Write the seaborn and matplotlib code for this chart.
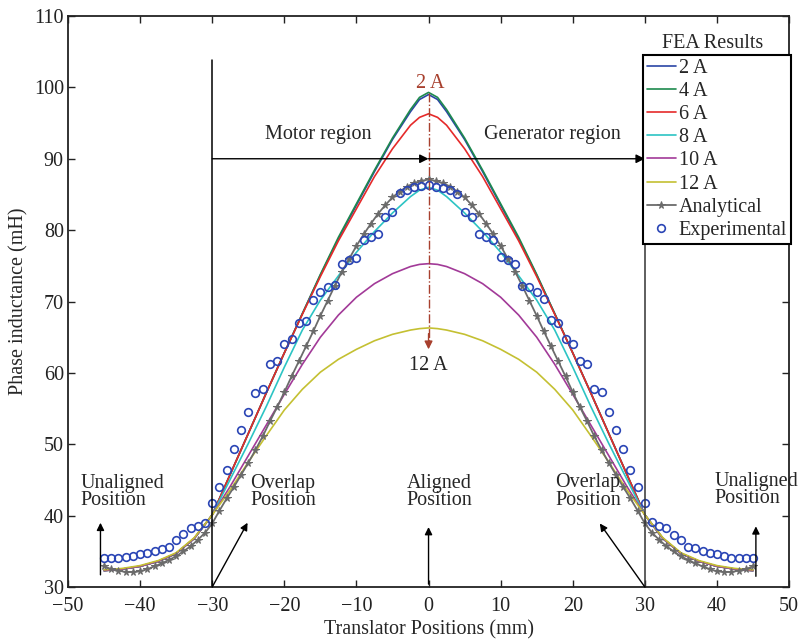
import numpy as np
import pandas as pd
import matplotlib
matplotlib.use("Agg")
import matplotlib.pyplot as plt
import seaborn as sns

# FEA results, sampled every 2.5 mm (plus two points close to the peak)
x_fea = [-45, -42.5, -40, -37.5, -35, -32.5, -30, -27.5, -25, -22.5, -20, -17.5, -15,
         -12.5, -10, -7.5, -5, -2.5, -1.25, 0, 1.25, 2.5, 5, 7.5, 10, 12.5, 15, 17.5,
         20, 22.5, 25, 27.5, 30, 32.5, 35, 37.5, 40, 42.5, 45]
fea_2a = [32.3, 32.5, 32.9, 33.6, 34.7, 36.8, 40.1, 45.8, 51.5, 57.2, 62.8, 68.3, 73.7,
          78.8, 83.5, 88.2, 92.7, 96.6, 98.3, 99.0, 98.3, 96.6, 92.7, 88.2, 83.5, 78.8,
          73.7, 68.3, 62.8, 57.2, 51.5, 45.8, 40.1, 36.8, 34.7, 33.6, 32.9, 32.5, 32.3]
fea_4a = [32.3, 32.5, 32.9, 33.6, 34.7, 36.8, 40.1, 45.8, 51.5, 57.2, 62.8, 68.3, 73.8,
          79.0, 83.7, 88.4, 92.9, 96.9, 98.6, 99.3, 98.6, 96.9, 92.9, 88.4, 83.7, 79.0,
          73.8, 68.3, 62.8, 57.2, 51.5, 45.8, 40.1, 36.8, 34.7, 33.6, 32.9, 32.5, 32.3]
fea_6a = [32.3, 32.5, 32.9, 33.6, 34.7, 36.8, 40.1, 45.8, 51.5, 57.2, 62.8, 68.2, 73.5,
          78.5, 83.0, 87.5, 91.4, 94.7, 95.8, 96.3, 95.8, 94.7, 91.4, 87.5, 83.0, 78.5,
          73.5, 68.2, 62.8, 57.2, 51.5, 45.8, 40.1, 36.8, 34.7, 33.6, 32.9, 32.5, 32.3]
fea_8a = [32.3, 32.5, 32.9, 33.6, 34.7, 36.8, 40.1, 45.1, 50.1, 55.3, 60.8, 66.0, 70.2,
          73.6, 76.9, 79.8, 82.4, 84.7, 85.6, 86.0, 85.6, 84.7, 82.4, 79.8, 76.9, 73.6,
          70.2, 66.0, 60.8, 55.3, 50.1, 45.1, 40.1, 36.8, 34.7, 33.6, 32.9, 32.5, 32.3]
fea_10a = [32.3, 32.5, 32.9, 33.6, 34.7, 36.8, 40.1, 44.1, 48.4, 52.7, 57.0, 61.2, 65.0,
           68.1, 70.6, 72.5, 73.9, 74.9, 75.2, 75.3, 75.2, 74.9, 73.9, 72.5, 70.6, 68.1,
           65.0, 61.2, 57.0, 52.7, 48.4, 44.1, 40.1, 36.8, 34.7, 33.6, 32.9, 32.5, 32.3]
fea_12a = [32.4, 32.6, 33.0, 33.7, 34.8, 36.9, 40.1, 43.6, 47.5, 51.2, 54.8, 57.7, 60.1,
           61.9, 63.3, 64.5, 65.4, 66.0, 66.2, 66.3, 66.2, 66.0, 65.4, 64.5, 63.3, 61.9,
           60.1, 57.7, 54.8, 51.2, 47.5, 43.6, 40.1, 36.9, 34.8, 33.7, 33.0, 32.6, 32.4]

# analytical and experimental, every 1 mm from -45 to 45
x_mm = list(range(-45, 46))
analytical = [32.9, 32.5, 32.3, 32.1, 32.1, 32.2, 32.5, 32.9, 33.3, 33.8,
              34.3, 35.0, 35.7, 36.6, 37.6, 38.9, 40.7, 42.4, 44.0, 45.7,
              47.4, 49.2, 51.1, 53.2, 55.2, 57.3, 59.5, 61.6, 63.7, 65.8,
              68.0, 70.1, 72.2, 74.2, 76.0, 77.8, 79.4, 80.9, 82.3, 83.5,
              84.6, 85.4, 86.1, 86.6, 86.9, 87.1,
              86.9, 86.6, 86.1, 85.4, 84.6, 83.5, 82.3, 80.9, 79.4, 77.8,
              76.0, 74.2, 72.2, 70.1, 68.0, 65.8, 63.7, 61.6, 59.5, 57.3,
              55.2, 53.2, 51.1, 49.2, 47.4, 45.7, 44.0, 42.4, 40.7, 38.9,
              37.6, 36.6, 35.7, 35.0, 34.3, 33.8, 33.3, 32.9, 32.5, 32.2,
              32.1, 32.1, 32.3, 32.5, 32.9]
experimental = [34.0, 34.1, 34.1, 34.2, 34.3, 34.6, 34.8, 35.0, 35.3, 35.6,
                36.6, 37.4, 38.2, 38.6, 39.0, 41.7, 44.0, 46.4, 49.3, 52.0,
                54.5, 57.2, 57.7, 61.3, 61.6, 64.0, 64.7, 67.0, 67.3, 70.2,
                71.3, 72.0, 72.3, 75.2, 75.8, 76.1, 78.6, 79.1, 79.5, 81.8,
                82.5, 85.2, 85.6, 86.0, 86.2, 86.3,
                86.1, 85.9, 85.6, 85.1, 82.5, 81.9, 79.5, 79.1, 78.6, 76.2,
                75.8, 75.2, 72.2, 72.1, 71.4, 70.3, 67.4, 67.0, 64.8, 64.0,
                61.6, 61.3, 57.8, 57.3, 54.5, 52.0, 49.3, 46.4, 44.0, 41.7,
                39.1, 38.6, 38.2, 37.3, 36.6, 35.6, 35.4, 35.1, 34.8, 34.6,
                34.4, 34.1, 34.1, 34.1, 34.0]

labels = ['2 A', '4 A', '6 A', '8 A', '10 A', '12 A']
colors = ['#2b45a6', '#1e8a4e', '#e52a2a', '#2cc4c4', '#a23a98', '#c4c032']

sns.set_style("ticks")
plt.rcParams['font.family'] = ['Liberation Serif', 'DejaVu Serif']

fea = pd.DataFrame({'x': x_fea, '2 A': fea_2a, '4 A': fea_4a, '6 A': fea_6a,
                    '8 A': fea_8a, '10 A': fea_10a, '12 A': fea_12a})

fig = plt.figure(figsize=(8.05, 6.43), dpi=100)
ax = fig.add_axes([0.0845, 0.0871, 0.8957, 0.888])

for name, col in zip(labels, colors):
    sns.lineplot(data=fea, x='x', y=name, color=col, lw=1.2, label=name, ax=ax)

sns.lineplot(x=x_mm, y=analytical, color='#6b6b6b', lw=1.3, marker='*', markersize=5.5,
             markeredgecolor='#6b6b6b', label='Analytical', ax=ax)
sns.lineplot(x=x_mm, y=experimental, linestyle='', marker='o', markersize=5.5,
             markerfacecolor='none', markeredgecolor='#2a45b5', markeredgewidth=1.2,
             color='#2a45b5', label='Experimental', ax=ax)

fs = 14.5

# region lines and arrows
ax.plot([-30, -30], [30, 103.8], color='k', lw=1.1)
ax.plot([30, 30], [30, 102.8], color='#333333', lw=1.1)
arr = dict(arrowstyle='-|>', color='k', lw=1.0, mutation_scale=13, shrinkA=0, shrinkB=0)
ax.annotate('', xy=(0, 90), xytext=(-30, 90), arrowprops=arr)
ax.annotate('', xy=(30, 90), xytext=(0, 90), arrowprops=arr)
ax.text(-15.3, 93.4, 'Motor region', ha='center', va='center', fontsize=fs)
ax.text(17.2, 93.4, 'Generator region', ha='center', va='center', fontsize=fs)

# current direction arrow
ax.plot([0, 0], [99.2, 64.5], color='#a8402e', lw=1.0, linestyle='-.')
ax.annotate('', xy=(0, 63.3), xytext=(0, 65.5),
            arrowprops=dict(arrowstyle='-|>', color='#a8402e', lw=1.0,
                            mutation_scale=12, shrinkA=0, shrinkB=0))
ax.text(0.2, 100.5, '2 A', color='#a8402e', ha='center', va='center', fontsize=fs)
ax.text(0, 61.0, '12 A', ha='center', va='center', fontsize=fs)

# position annotations
pos_kw = dict(fontsize=fs, va='center', linespacing=0.88)
ax.text(-48.3, 43.3, 'Unaligned\nPosition', ha='left', **pos_kw)
ax.text(-24.7, 43.3, 'Overlap\nPosition', ha='left', **pos_kw)
ax.text(1.5, 43.3, 'Aligned\nPosition', ha='center', multialignment='center', **pos_kw)
ax.text(17.6, 43.4, 'Overlap\nPosition', ha='left', **pos_kw)
ax.text(39.6, 43.6, 'Unaligned\nPosition', ha='left', **pos_kw)

arr2 = dict(arrowstyle='-|>', color='k', lw=1.0, mutation_scale=11, shrinkA=0, shrinkB=0)
ax.annotate('', xy=(-45.5, 39.0), xytext=(-45.5, 31.7), arrowprops=arr2)
ax.annotate('', xy=(-25.1, 39.0), xytext=(-30, 30), arrowprops=arr2)
ax.annotate('', xy=(0, 38.4), xytext=(0, 30.4), arrowprops=arr2)
ax.annotate('', xy=(23.75, 38.9), xytext=(30, 30), arrowprops=arr2)
ax.annotate('', xy=(45.4, 38.5), xytext=(45.4, 31.5), arrowprops=arr2)

ax.set_xlim(-50, 50)
ax.set_ylim(30, 110)
ax.set_xticks(range(-50, 51, 10))
ax.set_yticks(range(30, 111, 10))
ax.tick_params(direction='in', top=True, right=True, length=5, width=1,
               labelsize=fs, colors='#222222')
ax.tick_params(axis='x', pad=7)
ax.tick_params(axis='y', pad=3)
for sp in ax.spines.values():
    sp.set_linewidth(1.3)
    sp.set_color('#222222')
ax.set_xlabel('Translator Positions (mm)', fontsize=fs, labelpad=3)
ax.set_ylabel('Phase inductance (mH)', fontsize=fs, labelpad=4)

leg = ax.legend(loc='upper right', bbox_to_anchor=(1.003, 0.932), borderaxespad=0,
                frameon=True, fancybox=False, edgecolor='k', fontsize=fs,
                handlelength=1.45, handletextpad=0.15, labelspacing=0.2,
                borderpad=0.2, framealpha=1)
leg.get_frame().set_linewidth(1.5)
ax.text(39.4, 106.2, 'FEA Results', ha='center', va='center', fontsize=fs)

fig.savefig('out.png', dpi=100)
